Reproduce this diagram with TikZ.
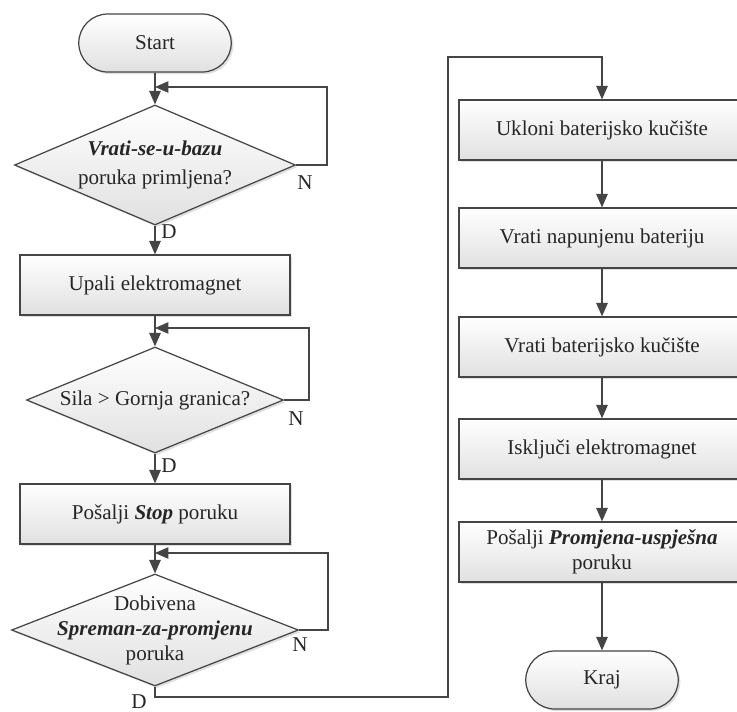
\documentclass[tikz,border=0pt]{standalone}
\usepackage{fontspec}
\setmainfont{Liberation Serif}
\usetikzlibrary{arrows.meta, shadows, positioning, shapes.geometric}
\definecolor{linegray}{HTML}{454545}
\tikzset{>={Triangle[length=0.27cm, width=0.23cm]}}

\begin{document}
\begin{tikzpicture}[x=0.02cm, y=-0.02cm,
        font=\fontsize{12}{14.2}\selectfont, text=black!85,
        box/.style={draw=linegray, line width=0.7pt, top color=white, bottom color=black!12,
                drop shadow={shadow xshift=1.2pt, shadow yshift=-1.2pt, opacity=0.25}},
        proc/.style={box, rectangle, minimum height=1.2cm, align=center, inner sep=0pt},
        term/.style={box, rectangle, rounded corners=0.58cm, minimum width=3.05cm, minimum height=1.16cm},
        dec/.style={box, diamond, inner sep=0pt},
        conn/.style={->, draw=linegray, line width=0.7pt}]

        \useasboundingbox (0,0) rectangle (737,711);

        \node[term] (S) at (155,43) {Start};
        \node[dec, minimum width=5.62cm, minimum height=2.4cm] (Q1) at (155,165) {};
        \node[align=center] (Q1t) at (Q1) {\textbf{\textit{Vrati-se-u-bazu}}\\[2pt]poruka primljena?};
        \node[proc, minimum width=5.4cm] (P1) at (155,285) {Upali elektromagnet};
        \node[dec, minimum width=5.14cm, minimum height=2.12cm] (Q2) at (155,400) {};
        \node (Q2t) at (Q2) {Sila > Gornja granica?};
        \node[proc, minimum width=5.4cm] (P2) at (155,514) {Pošalji \textbf{\textit{Stop}} poruku};
        \node[dec, minimum width=5.74cm, minimum height=2.24cm] (Q3) at (155,630) {};
        \node[align=center] (Q3t) at (Q3) {Dobivena\\\textbf{\textit{Spreman-za-promjenu}}\\poruka};

        \node[proc, minimum width=5.72cm] (R1) at (602,130) {Ukloni baterijsko kučište};
        \node[proc, minimum width=5.72cm] (R2) at (602,238) {Vrati napunjenu bateriju};
        \node[proc, minimum width=5.72cm] (R3) at (602,347) {Vrati baterijsko kučište};
        \node[proc, minimum width=5.72cm] (R4) at (602,449) {Isključi elektromagnet};
        \node[proc, minimum width=5.72cm] (R5) at (602,552) {Pošalji \textbf{\textit{Promjena-uspješna}}\\poruku};
        \node[term] (K) at (602,680) {Kraj};

        \coordinate (L1) at (327,87);
        \coordinate (M1) at (155,87);
        \coordinate (L2) at (309,328);
        \coordinate (M2) at (155,328);
        \coordinate (L3) at (328,553);
        \coordinate (M3) at (155,553);
        \coordinate (J1) at (448,697);
        \coordinate (J2) at (448,57);

        \draw[conn] (S) -- (Q1);
        \draw[conn] (Q1.east) -| (L1) -- (M1);
        \draw[conn] (Q1) -- (P1);
        \draw[conn] (P1) -- (Q2);
        \draw[conn] (Q2.east) -| (L2) -- (M2);
        \draw[conn] (Q2) -- (P2);
        \draw[conn] (P2) -- (Q3);
        \draw[conn] (Q3.east) -| (L3) -- (M3);
        \draw[conn] (Q3.south) |- (J1) -- (J2) -| (R1.north);
        \draw[conn] (R1) -- (R2);
        \draw[conn] (R2) -- (R3);
        \draw[conn] (R3) -- (R4);
        \draw[conn] (R4) -- (R5);
        \draw[conn] (R5) -- (K);

        \node (N1) at (305,183) {N};
        \node (N2) at (296,419) {N};
        \node (N3) at (300,645) {N};
        \node (D1) at (169,232) {D};
        \node (D2) at (169,466) {D};
        \node (D3) at (139,702) {D};
\end{tikzpicture}
\end{document}
